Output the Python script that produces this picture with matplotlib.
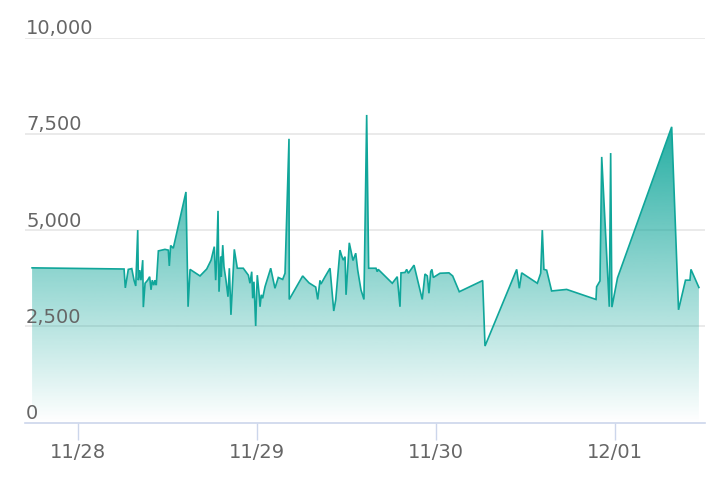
import numpy as np
import pandas as pd
import matplotlib
matplotlib.use("Agg")
import matplotlib.pyplot as plt
import matplotlib.dates as mdates
from matplotlib.colors import to_rgb

# 读取的数据（从图上估计）
times = [
    "11-27 17:48", "11-28 06:08", "11-28 06:18", "11-28 06:42", "11-28 07:10",
    "11-28 07:28", "11-28 07:42", "11-28 07:58", "11-28 08:03", "11-28 08:14",
    "11-28 08:24", "11-28 08:38", "11-28 08:43", "11-28 08:57", "11-28 09:18",
    "11-28 09:34", "11-28 09:45", "11-28 09:55", "11-28 10:07", "11-28 10:17",
    "11-28 10:27", "11-28 10:44", "11-28 11:37", "11-28 12:04", "11-28 12:12",
    "11-28 12:23", "11-28 12:44", "11-28 14:26", "11-28 14:43", "11-28 14:59",
    "11-28 16:19", "11-28 17:13", "11-28 17:48", "11-28 18:14", "11-28 18:25",
    "11-28 18:33", "11-28 18:44", "11-28 18:52", "11-28 19:06", "11-28 19:10",
    "11-28 19:22", "11-28 19:32", "11-28 19:48", "11-28 20:04", "11-28 20:15",
    "11-28 20:28", "11-28 20:42", "11-28 20:55", "11-28 21:19", "11-28 22:07",
    "11-28 22:48", "11-28 23:01", "11-28 23:15", "11-28 23:23", "11-28 23:33",
    "11-28 23:47", "11-28 23:55", "11-29 00:00", "11-29 00:14", "11-29 00:22",
    "11-29 00:32", "11-29 00:43", "11-29 01:02", "11-29 01:48", "11-29 02:22",
    "11-29 02:49", "11-29 03:24", "11-29 03:43", "11-29 04:15", "11-29 04:17",
    "11-29 06:05", "11-29 06:56", "11-29 07:50", "11-29 08:06", "11-29 08:24",
    "11-29 08:32", "11-29 09:05", "11-29 09:45", "11-29 10:15", "11-29 10:31",
    "11-29 11:05", "11-29 11:19", "11-29 11:32", "11-29 11:46", "11-29 11:54",
    "11-29 12:20", "11-29 12:50", "11-29 13:12", "11-29 13:28", "11-29 13:54",
    "11-29 14:18", "11-29 14:40", "11-29 14:56", "11-29 15:55", "11-29 16:05",
    "11-29 16:13", "11-29 18:06", "11-29 18:46", "11-29 19:08", "11-29 19:16",
    "11-29 19:48", "11-29 20:02", "11-29 20:15", "11-29 21:01", "11-29 22:07",
    "11-29 22:29", "11-29 22:48", "11-29 23:01", "11-29 23:15", "11-29 23:25",
    "11-29 23:36", "11-30 00:30", "11-30 01:42", "11-30 02:12", "11-30 03:05",
    "11-30 06:13", "11-30 06:32", "11-30 10:47", "11-30 11:08", "11-30 11:27",
    "11-30 13:33", "11-30 14:00", "11-30 14:13", "11-30 14:26", "11-30 14:48",
    "11-30 15:28", "11-30 17:29", "11-30 21:25", "11-30 21:30", "11-30 21:57",
    "11-30 22:11", "11-30 23:12", "11-30 23:23", "11-30 23:33", "12-01 00:18",
    "12-01 07:34", "12-01 08:29", "12-01 09:25", "12-01 10:01", "12-01 10:09",
    "12-01 11:13",
]

values = [
    4020, 3990, 3500, 3980, 4000, 3700, 3550, 5000, 3700, 3960,
    3700, 4220, 3000, 3620, 3700, 3790, 3450, 3700, 3570, 3700,
    3570, 4460, 4500, 4480, 4070, 4600, 4530, 5990, 3010, 3980,
    3810, 3990, 4220, 4570, 3700, 4220, 5500, 3400, 4310, 3790,
    4610, 4050, 3700, 3270, 4010, 2800, 3700, 4500, 4010, 4010,
    3830, 3620, 3920, 3230, 3660, 2510, 3400, 3830, 3360, 3010,
    3320, 3230, 3530, 4010, 3490, 3770, 3720, 3880, 7370, 3200,
    3810, 3630, 3520, 3200, 3690, 3600, 3790, 4010, 2900, 3190,
    4480, 4330, 4220, 4310, 3320, 4670, 4210, 4400, 3960, 3450,
    3200, 7990, 4010, 4010, 3920, 3980, 3620, 3790, 3010, 3890,
    3900, 3980, 3880, 4090, 3200, 3860, 3810, 3360, 3920, 3980,
    3770, 3880, 3890, 3810, 3400, 3690, 1990, 3980, 3490, 3890,
    3620, 3880, 5000, 3980, 3960, 3420, 3460, 3200, 3530, 3680,
    6900, 3010, 7000, 3000, 3760, 7680, 2930, 3700, 3700, 3980,
    3510,
]

y_ticks = [0, 2500, 5000, 7500, 10000]
x_ticks = ["11-28", "11-29", "11-30", "12-01"]

YEAR = "2020-"
teal = "#10a69a"
grey = "#666666"
axis_col = "#ccd6eb"

x = mdates.date2num(pd.to_datetime([YEAR + t for t in times]))
y = np.array(values, dtype=float)

fig = plt.figure(figsize=(7.16, 4.96), dpi=100)
ax = fig.add_axes([25 / 716, 73.3 / 496, 680 / 716, 385.2 / 496])

x0 = mdates.date2num(pd.Timestamp(YEAR + "11-27 16:51"))
x1 = mdates.date2num(pd.Timestamp(YEAR + "12-01 12:02"))
ax.set_xlim(x0, x1)
ax.set_ylim(0, 10000)

# 网格线
for v in y_ticks[1:]:
    ax.axhline(v, color="#e6e6e6", lw=1.2, zorder=0)

# 渐变填充
poly = ax.fill_between(x, y, 0, facecolor="none", edgecolor="none")
grad = np.linspace(0, 1, 256).reshape(-1, 1)
img = np.zeros((256, 1, 4))
img[..., :3] = to_rgb(teal)
img[..., 3] = grad[:, 0:1] * 0.95
im = ax.imshow(img, origin="lower", aspect="auto",
               extent=[x0, x1, 0, y.max()], zorder=1, interpolation="bilinear")
im.set_clip_path(poly.get_paths()[0], transform=ax.transData)
ax.set_xlim(x0, x1)
ax.set_ylim(0, 10000)

ax.plot(x, y, color=teal, lw=1.2, zorder=3, solid_joinstyle="miter")

# 坐标轴
for s in ["top", "left", "right"]:
    ax.spines[s].set_visible(False)
ax.spines["bottom"].set_color(axis_col)
ax.spines["bottom"].set_linewidth(1.2)
ax.set_yticks([])

xt = mdates.date2num(pd.to_datetime([YEAR + t for t in x_ticks]))
ax.set_xticks(xt)
ax.set_xticklabels([t.replace("-", "/") for t in x_ticks])
ax.tick_params(axis="x", length=12.2, width=1, color=axis_col, pad=2.2,
               labelsize=14, labelcolor=grey)

for v in y_ticks:
    ax.annotate(f"{v:,}", xy=(0, v), xycoords=("axes fraction", "data"),
                xytext=(0.8, 2.4), textcoords="offset points",
                ha="left", va="baseline", fontsize=14, color=grey,
                annotation_clip=False)

fig.savefig("out.png", dpi=100)
